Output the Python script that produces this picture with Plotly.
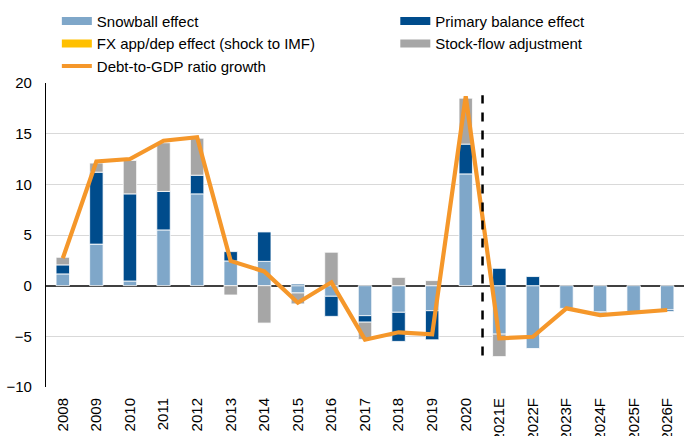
import plotly.graph_objects as go

categories = ["2008", "2009", "2010", "2011", "2012", "2013", "2014", "2015", "2016",
              "2017", "2018", "2019", "2020", "2021E", "2022F", "2023F", "2024F", "2025F", "2026F"]
snowball = [1.16, 4.1, 0.46, 5.5, 9.06, 2.44, 2.4, -0.72, -1.05, -2.96, -2.63, -2.47,
            11.03, -4.78, -6.2, -2.24, -2.57, -2.57, -2.4]
primary = [0.89, 7.1, 8.6, 3.8, 1.84, 0.92, 2.9, 0.15, -1.98, -0.64, -2.87, -2.87,
           2.94, 1.71, 0.9, 0.0, -0.1, 0.0, -0.15]
fx_effect = [0.0] * 19
stock_flow = [0.75, 0.9, 3.3, 4.8, 3.65, -0.92, -3.69, -1.08, 3.3, -1.7, 0.82, 0.5,
              4.53, -2.22, 0.0, 0.0, 0.0, 0.0, 0.0]
debt_growth = [2.7, 12.25, 12.5, 14.3, 14.65, 2.44, 1.4, -1.68, 0.33, -5.33, -4.6, -4.8,
               18.68, -5.2, -5.04, -2.24, -2.9, -2.7, -2.4]
forecast_split_after = "2020"
split_y_range = [-6.9, 18.8]

C_SNOW = "#7FA7C9"
C_PRIM = "#004C8C"
C_FX = "#FFC000"
C_SFA = "#A6A6A6"
C_LINE = "#F5972A"
FONT = "Liberation Sans, Arial, sans-serif"

fig = go.Figure()
bars = [("Snowball effect", snowball, C_SNOW, "legend"),
        ("Primary balance effect", primary, C_PRIM, "legend2"),
        ("FX app/dep effect (shock to IMF)", fx_effect, C_FX, "legend"),
        ("Stock-flow adjustment", stock_flow, C_SFA, "legend2")]
for name, vals, col, lg in bars:
    fig.add_trace(go.Bar(x=categories, y=vals, name=name, marker_color=col,
                         marker_line=dict(color="white", width=[0 if v == 0 else 0.8 for v in vals]),
                         showlegend=False, legendgroup=name))
fig.add_trace(go.Scatter(x=categories, y=debt_growth, mode="lines", name="Debt-to-GDP ratio growth",
                         line=dict(color=C_LINE, width=4.2), showlegend=False))

# legend entries (wide swatches)
for name, vals, col, lg in bars:
    fig.add_trace(go.Scatter(x=[None], y=[None], mode="lines", name=name,
                             line=dict(color=col, width=8), legend=lg, legendgroup=name))
fig.add_trace(go.Scatter(x=[None], y=[None], mode="lines", name="Debt-to-GDP ratio growth",
                         line=dict(color=C_LINE, width=4), legend="legend"))

xs = categories.index(forecast_split_after) + 0.5
fig.add_shape(type="line", xref="x", yref="y", x0=xs, x1=xs, y0=split_y_range[0], y1=split_y_range[1],
              line=dict(color="black", width=2.5, dash="dash"))

fig.update_layout(
    width=684, height=436,
    margin=dict(l=46, r=0, t=83, b=49, autoexpand=False),
    paper_bgcolor="white", plot_bgcolor="white",
    barmode="relative", bargap=0.6,
    font=dict(family=FONT, size=15, color="black"),
    legend=dict(x=0.017, y=1.257, xanchor="left", yanchor="top", orientation="v",
                font=dict(size=15), bgcolor="rgba(0,0,0,0)", tracegroupgap=0, itemwidth=30),
    legend2=dict(x=0.5475, y=1.257, xanchor="left", yanchor="top", orientation="v",
                 font=dict(size=15), bgcolor="rgba(0,0,0,0)", tracegroupgap=0, itemwidth=30),
    xaxis=dict(type="category", tickangle=-90, showgrid=False, showline=False, ticks="",
               ticklabelstandoff=7, tickfont=dict(size=15), range=[-0.5, 18.5]),
    yaxis=dict(range=[-10, 20], dtick=5, showgrid=True, gridcolor="#D9D9D9", gridwidth=1.2,
               zeroline=True, zerolinecolor="#404040", zerolinewidth=1.5,
               showline=True, linecolor="black", linewidth=1.2, ticks="",
               ticklabelstandoff=10, tickfont=dict(size=15)),
)
fig.write_html("out.html", config={"displayModeBar": False},
               post_script="document.body.style.margin='0px';document.body.style.overflow='hidden';")
